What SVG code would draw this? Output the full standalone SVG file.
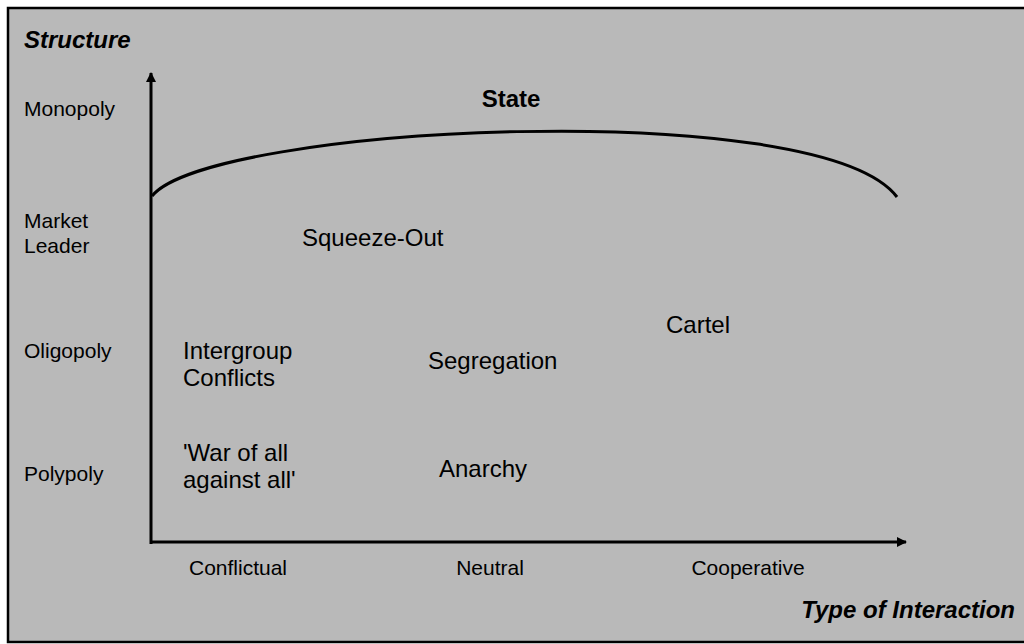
<svg xmlns="http://www.w3.org/2000/svg" width="1024" height="644" viewBox="0 0 1024 644">
<defs>
<style>
.lbl{font-family:"Liberation Sans",Arial,sans-serif;font-size:21px;fill:#000}
.big{font-family:"Liberation Sans",Arial,sans-serif;font-size:24px;fill:#000}
.ttl{font-family:"Liberation Sans",Arial,sans-serif;font-size:24px;font-weight:bold;font-style:italic;fill:#000}
.axis{stroke:#000;stroke-width:3;fill:none}
</style>
<marker id="ah" viewBox="0 0 10 10" refX="9" refY="5" markerWidth="10" markerHeight="10" markerUnits="userSpaceOnUse" orient="auto">
<path d="M0,0 L10,5 L0,10 Z" fill="#000"/>
</marker>
</defs>
<rect x="0" y="0" width="1024" height="644" fill="#fff"/>
<rect x="8" y="8" width="1020" height="634" fill="#b9b9b9" stroke="#000" stroke-width="2.5"/>
<g id="connectors">
<line class="axis" x1="151" y1="544" x2="151" y2="73" marker-end="url(#ah)"/>
<line class="axis" x1="150" y1="542" x2="906" y2="542" marker-end="url(#ah)"/>
<path id="state-curve" class="axis" d="M152,196 C210,125 820,95 897,197"/>
</g>
<g id="axis-titles">
<text class="ttl" x="24" y="48">Structure</text>
<text class="ttl" x="1015" y="618" text-anchor="end">Type of Interaction</text>
</g>
<g id="y-labels">
<text class="lbl" x="24" y="116">Monopoly</text>
<text class="lbl" x="24" y="228">Market</text>
<text class="lbl" x="24" y="253">Leader</text>
<text class="lbl" x="24" y="358">Oligopoly</text>
<text class="lbl" x="24" y="481">Polypoly</text>
</g>
<g id="x-labels">
<text class="lbl" x="238" y="575" text-anchor="middle">Conflictual</text>
<text class="lbl" x="490" y="575" text-anchor="middle">Neutral</text>
<text class="lbl" x="748" y="575" text-anchor="middle">Cooperative</text>
</g>
<g id="state"><text class="big" x="511" y="107" text-anchor="middle" font-weight="bold">State</text></g>
<g id="squeeze-out"><text class="big" x="302" y="246">Squeeze-Out</text></g>
<g id="cartel"><text class="big" x="666" y="333">Cartel</text></g>
<g id="intergroup"><text class="big" x="183" y="359">Intergroup</text><text class="big" x="183" y="386">Conflicts</text></g>
<g id="segregation"><text class="big" x="428" y="369">Segregation</text></g>
<g id="war"><text class="big" x="183" y="461">'War of all</text><text class="big" x="183" y="488">against all'</text></g>
<g id="anarchy"><text class="big" x="439" y="477">Anarchy</text></g>
</svg>
